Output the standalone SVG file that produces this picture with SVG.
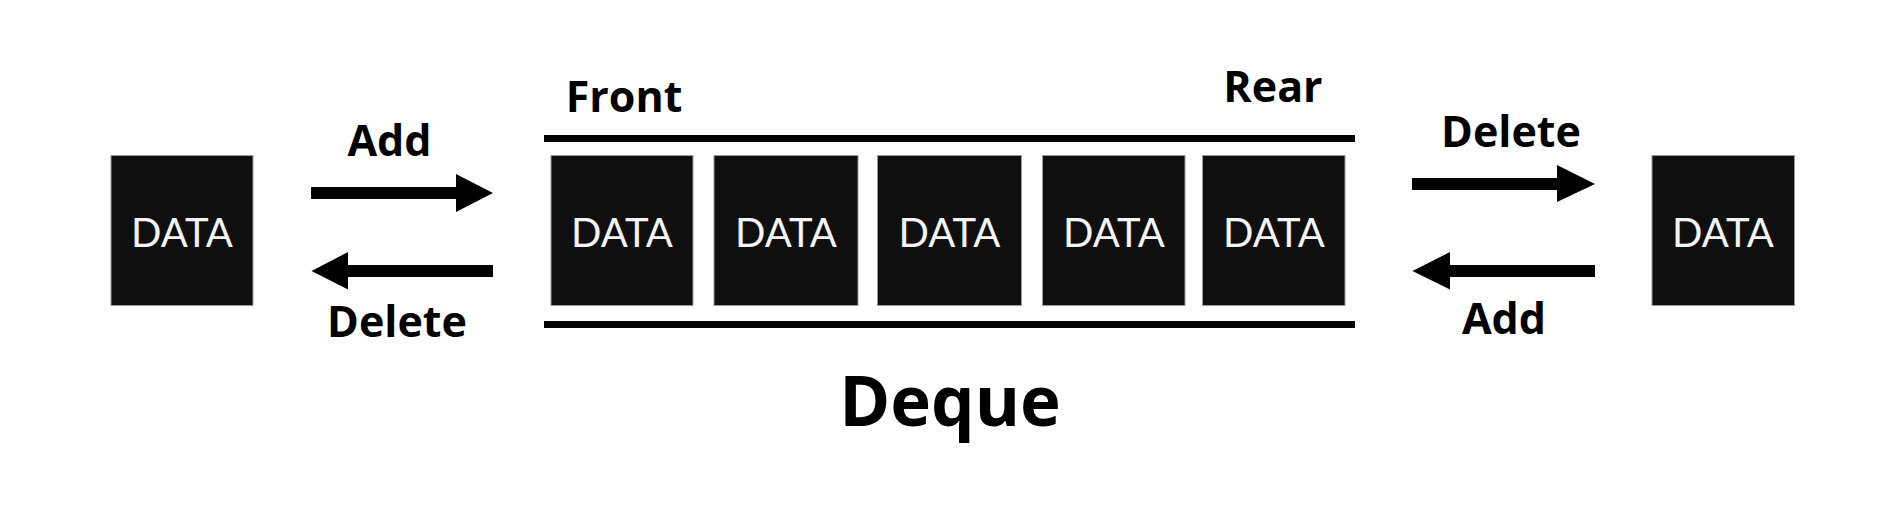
<svg xmlns="http://www.w3.org/2000/svg" width="1882" height="518" viewBox="0 0 1882 518">
<style>
.box{fill:#0f0f0f;stroke:#9a9a9a;stroke-width:1}
.dt{font-family:Lato,"Open Sans","DejaVu Sans",sans-serif;font-size:40px;fill:#f4f4f4;text-anchor:middle}
.lb{font-family:"Open Sans","Noto Sans","DejaVu Sans",sans-serif;font-weight:bold;font-size:43px;fill:#000;text-anchor:middle}
.bar{fill:#000}
.arr{fill:#000}
</style>
<rect width="1882" height="518" fill="#fff"/>
<g id="data-left"><rect class="box" x="111" y="155.5" width="142" height="150"/><text class="dt" x="182" y="246.5">DATA</text></g>
<g id="deque">
<rect class="bar" x="544" y="135" width="811" height="7"/>
<rect class="bar" x="544" y="321" width="811" height="7"/>
<text class="lb" x="624" y="112">Front</text>
<text class="lb" x="1273" y="101.5">Rear</text>
<text class="lb" x="950" y="426" style="font-size:69px">Deque</text>
</g>
<g id="q1"><rect class="box" x="551" y="155.5" width="142" height="150"/><text class="dt" x="622" y="246.5">DATA</text></g>
<g id="q2"><rect class="box" x="714" y="155.5" width="144" height="150"/><text class="dt" x="786" y="246.5">DATA</text></g>
<g id="q3"><rect class="box" x="877.5" y="155.5" width="144" height="150"/><text class="dt" x="949.5" y="246.5">DATA</text></g>
<g id="q4"><rect class="box" x="1042.5" y="155.5" width="142.5" height="150"/><text class="dt" x="1114" y="246.5">DATA</text></g>
<g id="q5"><rect class="box" x="1202.5" y="155.5" width="142.5" height="150"/><text class="dt" x="1274" y="246.5">DATA</text></g>
<g id="data-right"><rect class="box" x="1652" y="155.5" width="142.5" height="150"/><text class="dt" x="1723" y="246.5">DATA</text></g>
<g id="connectors">
<polygon class="arr" points="311,187 456,187 456,174 493,193 456,212 456,199 311,199"/>
<polygon class="arr" points="493,265 348,265 348,252 311.5,271 348,289.5 348,277 493,277"/>
<polygon class="arr" points="1412,178 1557,178 1557,165 1595,184 1557,202 1557,190 1412,190"/>
<polygon class="arr" points="1595,265 1450,265 1450,252 1412.5,271 1450,289.5 1450,277 1595,277"/>
<text class="lb" x="389.5" y="156">Add</text>
<text class="lb" x="397" y="337">Delete</text>
<text class="lb" x="1511" y="146.5">Delete</text>
<text class="lb" x="1504" y="334">Add</text>
</g>
</svg>
